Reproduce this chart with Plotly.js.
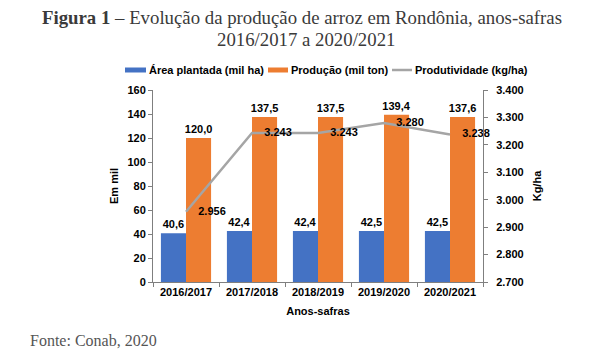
<!DOCTYPE html>
<html><head><meta charset="utf-8">
<script src="https://cdn.plot.ly/plotly-3.0.1.min.js"></script>
<style>html,body{margin:0;padding:0;background:#fff}#c{width:608px;height:355px}</style>
</head><body><div id="c"></div>
<script>
const categories = ["2016/2017","2017/2018","2018/2019","2019/2020","2020/2021"];
const areaPlantada = [40.6, 42.4, 42.4, 42.5, 42.5];
const producao = [120.0, 137.5, 137.5, 139.4, 137.6];
const produtividade = [2956, 3243, 3243, 3280, 3238];
const leftTicks = [0,20,40,60,80,100,120,140,160];
const rightTicks = [2700,2800,2900,3000,3100,3200,3300,3400];
const seriesNames = ["Área plantada (mil ha)", "Produção (mil ton)", "Produtividade (kg/ha)"];
const titleLine1 = "<b>Figura 1</b> – Evolução da produção de arroz em Rondônia, anos-safras";
const titleLine2 = "2016/2017 a 2020/2021";
const sourceText = "Fonte: Conab, 2020";

const W = 608, H = 355, L = 153, R = 125, T = 90, B = 73;
const PW = W - L - R, PH = H - T - B;
const px = x => (x - L) / PW;          // pixel -> paper x
const py = y => (H - B - y) / PH;      // pixel -> paper y

const sans = "Liberation Sans, Arial, sans-serif";
const serif = "Liberation Serif, Times New Roman, serif";
const bold = {family:sans, size:11, color:"#000"};
const colors = ["#4472C4", "#ED7D31", "#A5A5A5"];

const traces = [
  {type:"bar", name:seriesNames[0], x:categories, y:areaPlantada,
   marker:{color:colors[0]}, texttemplate:"<b>%{y:.1f}</b>", textposition:"outside",
   constraintext:"none", textfont:bold, cliponaxis:false, hoverinfo:"none"},
  {type:"bar", name:seriesNames[1], x:categories, y:producao,
   marker:{color:colors[1]}, texttemplate:"<b>%{y:.1f}</b>", textposition:"outside",
   constraintext:"none", textfont:bold, cliponaxis:false, hoverinfo:"none"},
  {type:"scatter", mode:"lines+markers+text", name:seriesNames[2], x:categories, y:produtividade,
   yaxis:"y2", line:{color:colors[2], width:2.5}, marker:{size:18, opacity:0, color:colors[2]},
   texttemplate:"<b>%{y:,.0f}</b>",
   textposition:"middle right", textfont:bold, cliponaxis:false, hoverinfo:"none"}
];

// custom legend (positions in pixels)
const legendY = 70;
const legendItems = [
  {x0:125, x1:146, tx:147, kind:"bar"},
  {x0:268, x1:288, tx:289, kind:"bar"},
  {x0:392, x1:412, tx:413, kind:"line"}
];
const shapes = [];
const annotations = [];
legendItems.forEach((it, i) => {
  if (it.kind === "bar") {
    shapes.push({type:"rect", xref:"paper", yref:"paper", x0:px(it.x0), x1:px(it.x1),
      y0:py(legendY+2.5), y1:py(legendY-2.5), fillcolor:colors[i], line:{width:0}});
  } else {
    shapes.push({type:"line", xref:"paper", yref:"paper", x0:px(it.x0), x1:px(it.x1),
      y0:py(legendY), y1:py(legendY), line:{color:colors[i], width:2.5}});
  }
  annotations.push({text:"<b>"+seriesNames[i]+"</b>", xref:"paper", yref:"paper", x:px(it.tx), y:py(legendY),
    xanchor:"left", yanchor:"middle", showarrow:false, font:{family:sans, size:11, color:"#000"}});
});
annotations.push(
  {text:titleLine1, xref:"paper", yref:"paper", x:px(302), y:py(17), xanchor:"center", yanchor:"middle",
   showarrow:false, font:{family:serif, size:18.8, color:"#3a3a3a"}},
  {text:titleLine2, xref:"paper", yref:"paper", x:px(306), y:py(39), xanchor:"center", yanchor:"middle",
   showarrow:false, font:{family:serif, size:18.8, color:"#3a3a3a"}},
  {text:sourceText, xref:"paper", yref:"paper", x:px(28), y:py(340), xanchor:"left", yanchor:"middle",
   showarrow:false, font:{family:serif, size:16, color:"#555"}}
);

const layout = {
  width:W, height:H, paper_bgcolor:"#fff", plot_bgcolor:"#fff",
  separators:",.",
  margin:{l:L, r:R, t:T, b:B},
  font:{family:sans, size:11, color:"#000"},
  barmode:"group", bargap:0.24, bargroupgap:0,
  showlegend:false,
  xaxis:{type:"category", showline:true, linecolor:"#7f7f7f", linewidth:1, ticks:"outside", tickson:"boundaries",
    ticklen:4, tickcolor:"#7f7f7f", tickfont:{family:sans, size:11, color:"#000", weight:"bold"},
    title:{text:"<b>Anos-safras</b>", font:{size:11, color:"#000"}, standoff:10}, showgrid:false, fixedrange:true},
  yaxis:{range:[0,160], tickvals:leftTicks, showline:true, linecolor:"#7f7f7f", ticks:"outside", ticklen:4, tickcolor:"#7f7f7f",
    tickfont:{size:11, color:"#000", weight:"bold"}, showgrid:false, zeroline:false,
    title:{text:"<b>Em mil</b>", font:{size:11, color:"#000"}, standoff:6}, fixedrange:true},
  yaxis2:{range:[2700,3400], tickvals:rightTicks, tickformat:",.0f", overlaying:"y", side:"right", showline:true,
    linecolor:"#7f7f7f", ticks:"outside", ticklen:4, tickcolor:"#7f7f7f", tickfont:{size:11, color:"#000", weight:"bold"},
    ticklabelstandoff:6,
    showgrid:false, zeroline:false, title:{text:"<b>Kg/ha</b>", font:{size:11, color:"#000"}, standoff:10}, fixedrange:true},
  shapes:shapes,
  annotations:annotations
};
Plotly.newPlot("c", traces, layout, {displayModeBar:false, staticPlot:true});
</script></body></html>
